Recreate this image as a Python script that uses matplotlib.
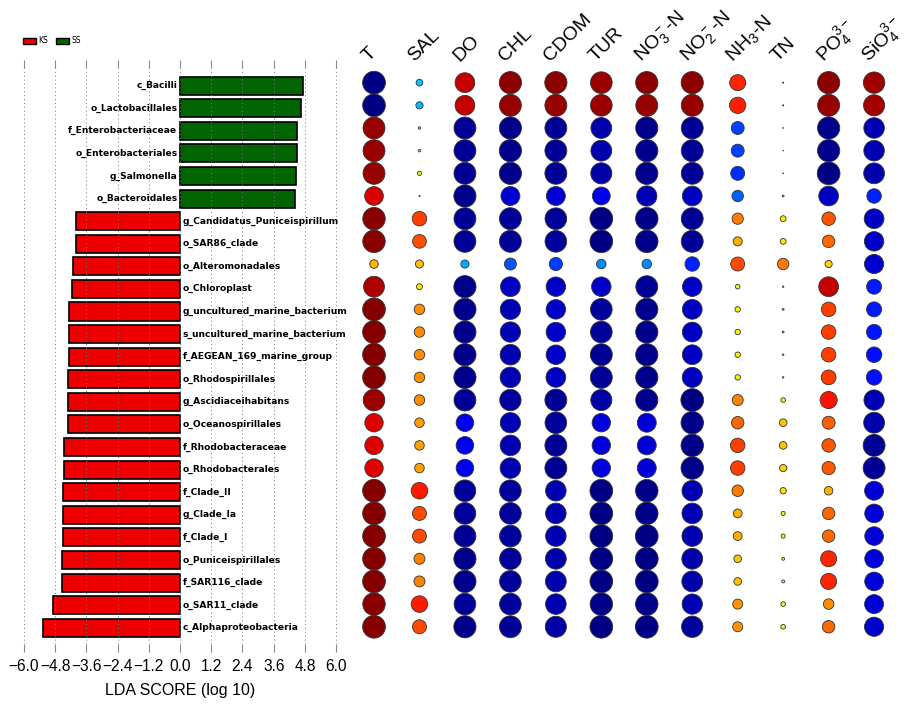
import numpy as np
import matplotlib
matplotlib.use('Agg')
import matplotlib.pyplot as plt
from matplotlib.patches import Patch
from matplotlib.transforms import blended_transform_factory

plt.rcParams['mathtext.fontset'] = 'custom'
plt.rcParams['mathtext.rm'] = 'Liberation Sans'
plt.rcParams['mathtext.it'] = 'Liberation Sans:italic'

# LEfSe taxa (top to bottom) and LDA scores; SS > 0, KS < 0
taxa = ['c_Bacilli', 'o_Lactobacillales', 'f_Enterobacteriaceae', 'o_Enterobacteriales',
        'g_Salmonella', 'o_Bacteroidales', 'g_Candidatus_Puniceispirillum', 'o_SAR86_clade',
        'o_Alteromonadales', 'o_Chloroplast', 'g_uncultured_marine_bacterium',
        's_uncultured_marine_bacterium', 'f_AEGEAN_169_marine_group', 'o_Rhodospirillales',
        'g_Ascidiaceihabitans', 'o_Oceanospirillales', 'f_Rhodobacteraceae', 'o_Rhodobacterales',
        'f_Clade_II', 'g_Clade_Ia', 'f_Clade_I', 'o_Puniceispirillales', 'f_SAR116_clade',
        'o_SAR11_clade', 'c_Alphaproteobacteria']
lda = [4.71, 4.64, 4.48, 4.49, 4.44, 4.40, -3.98, -4.01, -4.11, -4.14, -4.28, -4.28, -4.28,
       -4.29, -4.29, -4.32, -4.47, -4.47, -4.50, -4.50, -4.51, -4.53, -4.54, -4.88, -5.26]

# correlation with environmental factors (one list per factor, same row order as taxa)
env_labels = ['T', 'SAL', 'DO', 'CHL', 'CDOM', 'TUR', r'NO$_3^-$-N', r'NO$_2^-$-N',
              r'NH$_3$-N', 'TN', r'PO$_4^{3-}$', r'SiO$_4^{3-}$']
r_T = [-0.99, -0.99, 0.96, 0.96, 0.96, 0.84, 0.98, 0.98, 0.44, 0.92, 0.99, 0.99, 0.99,
       0.99, 0.95, 0.83, 0.83, 0.83, 0.99, 0.99, 0.99, 0.99, 0.99, 0.98, 0.99]
r_SAL = [-0.36, -0.38, 0.16, 0.16, 0.24, 0.08, 0.68, 0.65, 0.42, 0.32, 0.52, 0.52, 0.52,
         0.52, 0.52, 0.48, 0.48, 0.48, 0.76, 0.66, 0.66, 0.54, 0.54, 0.76, 0.66]
r_DO = [0.88, 0.88, -0.96, -0.96, -0.96, -0.97, -0.96, -0.96, -0.42, -0.97, -0.97, -0.97, -0.97,
        -0.97, -0.96, -0.80, -0.80, -0.80, -0.95, -0.95, -0.96, -0.97, -0.97, -0.95, -0.97]
r_CHL = [0.97, 0.96, -0.97, -0.97, -0.97, -0.85, -0.96, -0.96, -0.58, -0.88, -0.90, -0.90, -0.91,
         -0.91, -0.94, -0.90, -0.91, -0.91, -0.95, -0.95, -0.95, -0.95, -0.95, -0.95, -0.96]
r_CDOM = [0.97, 0.96, -0.96, -0.96, -0.96, -0.85, -0.95, -0.95, -0.63, -0.87, -0.87, -0.87, -0.87,
          -0.88, -0.96, -0.95, -0.96, -0.96, -0.91, -0.91, -0.91, -0.92, -0.92, -0.91, -0.93]
r_TUR = [0.95, 0.95, -0.92, -0.92, -0.93, -0.81, -0.99, -0.99, -0.48, -0.87, -0.95, -0.95, -0.96,
         -0.96, -0.93, -0.83, -0.83, -0.83, -0.99, -0.99, -0.99, -0.99, -0.99, -0.98, -0.99]
r_NO3 = [0.97, 0.96, -0.97, -0.97, -0.97, -0.90, -0.98, -0.98, -0.48, -0.96, -0.97, -0.97, -0.97,
         -0.97, -0.97, -0.85, -0.85, -0.85, -0.98, -0.98, -0.99, -0.99, -0.99, -0.98, -0.99]
r_NO2 = [0.97, 0.96, -0.96, -0.96, -0.96, -0.88, -0.96, -0.96, -0.68, -0.87, -0.88, -0.88, -0.88,
         -0.89, -0.99, -0.98, -0.98, -0.98, -0.91, -0.91, -0.91, -0.92, -0.92, -0.90, -0.94]
r_NH3 = [0.74, 0.75, -0.62, -0.62, -0.66, -0.56, 0.55, 0.46, 0.66, 0.26, 0.30, 0.30, 0.30,
         0.30, 0.54, 0.60, 0.68, 0.68, 0.56, 0.45, 0.45, 0.40, 0.40, 0.50, 0.50]
r_TN = [0.08, 0.08, 0.06, 0.05, 0.06, 0.12, 0.32, 0.32, 0.56, 0.10, 0.12, 0.12, 0.10,
        0.10, 0.26, 0.40, 0.40, 0.38, 0.34, 0.24, 0.24, 0.18, 0.18, 0.26, 0.26]
r_PO4 = [0.97, 0.96, -0.97, -0.97, -0.99, -0.88, 0.64, 0.60, 0.38, 0.88, 0.68, 0.68, 0.68,
         0.69, 0.78, 0.62, 0.64, 0.63, 0.44, 0.60, 0.60, 0.74, 0.74, 0.52, 0.60]
r_SiO4 = [0.94, 0.93, -0.91, -0.91, -0.92, -0.68, -0.88, -0.87, -0.86, -0.70, -0.70, -0.71, -0.72,
          -0.72, -0.90, -0.92, -0.96, -0.96, -0.85, -0.84, -0.84, -0.84, -0.84, -0.85, -0.86]

W, H = 917, 705
narrow = ['Liberation Sans', 'DejaVu Sans']


def px_box(left, top, right, bottom):
    return [left / W, 1 - bottom / H, (right - left) / W, (bottom - top) / H]


fig = plt.figure(figsize=(W / 100, H / 100), dpi=100)

# ---- LDA bar chart ----
ax = fig.add_axes(px_box(16, 68, 344, 644))
y = np.arange(len(taxa))
bar_colors = ['#ee0000' if v < 0 else '#006400' for v in lda]
ax.barh(y, lda, height=0.8, color=bar_colors, edgecolor='black', linewidth=1.2)
ax.set_xlim(-6.3, 6.3)
ax.set_ylim(len(taxa) - 0.28, -0.78)
ticks = np.round(np.arange(-6.0, 6.01, 1.2), 1)
ax.set_xticks(ticks)
ax.set_xticklabels([('%.1f' % t).replace('-', '\u2212') for t in ticks],
                   family=narrow, fontsize=11.2)
ax.tick_params(axis='x', top=True, bottom=True, labeltop=False, direction='out',
               length=6, width=0.8, color='#888888', pad=5)
ax.tick_params(axis='y', left=False, labelleft=False)
ax.grid(axis='x', linestyle=(0, (1, 3)), color='#777777', linewidth=0.7)
for s in ax.spines.values():
    s.set_visible(False)
for i, (name, v) in enumerate(zip(taxa, lda)):
    if v > 0:
        ax.text(-0.1, i, name, ha='right', va='center', fontsize=6.6, fontweight='bold')
    else:
        ax.text(0.1, i, name, ha='left', va='center', fontsize=6.6, fontweight='bold')
ax.set_xlabel('LDA SCORE (log 10)', family=narrow, fontsize=11.5, labelpad=6)

fig.legend(handles=[Patch(facecolor='#ee0000', edgecolor='black'),
                    Patch(facecolor='#006400', edgecolor='black')],
           labels=['KS', 'SS'], loc='upper left', bbox_to_anchor=(0.018, 0.958), ncol=2,
           frameon=False, fontsize=5.5, handlelength=1.7, handleheight=0.9,
           handletextpad=0.3, columnspacing=1.0)

# ---- correlation bubbles ----
bx = fig.add_axes(px_box(350, 68, 900, 644))
M = np.column_stack([r_T, r_SAL, r_DO, r_CHL, r_CDOM, r_TUR, r_NO3, r_NO2,
                     r_NH3, r_TN, r_PO4, r_SiO4])
xx, yy = np.meshgrid(np.arange(M.shape[1]), np.arange(M.shape[0]))
diam = 23 * np.abs(M) ** 1.2 * 0.72
bx.scatter(xx.ravel(), yy.ravel(), s=(diam ** 2).ravel(), c=M.ravel(), cmap='jet',
           vmin=-1, vmax=1, edgecolors='#333333', linewidths=0.6)
bx.set_xlim(-0.528, 11.57)
bx.set_ylim(len(taxa) - 0.24, -0.646)
bx.axis('off')
trans = blended_transform_factory(bx.transData, bx.transAxes)
for j, lab in enumerate(env_labels):
    bx.text(j - 0.12, 1.01, lab, transform=trans, rotation=45, rotation_mode='anchor',
            ha='left', va='baseline', fontsize=14, family='Liberation Sans')

fig.savefig('out.png', dpi=100)
